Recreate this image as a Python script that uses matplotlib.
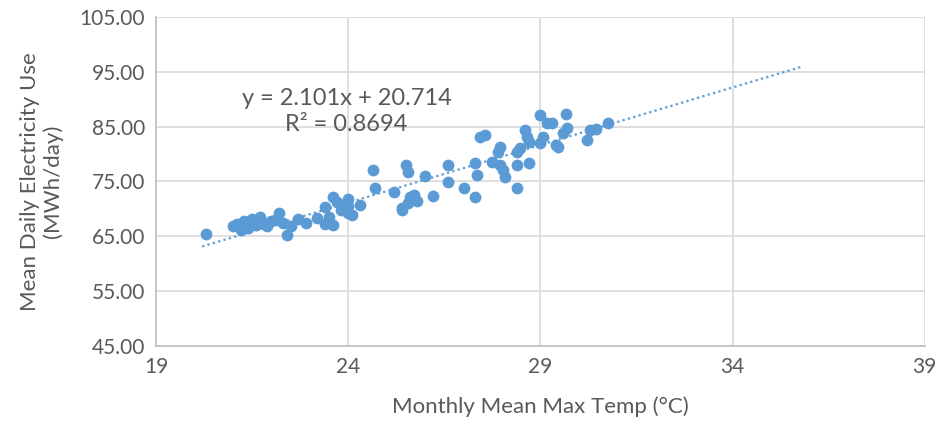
import matplotlib
matplotlib.use("Agg")
import matplotlib.pyplot as plt
import numpy as np

temp = [20.3, 21.0, 21.1, 21.2, 21.3, 21.4, 21.5, 21.6, 21.7, 21.8, 21.9, 22.0, 22.1, 22.2,
        22.3, 22.4, 22.5, 22.7, 22.9, 23.2, 23.4, 23.4, 23.5, 23.6, 23.6, 23.7, 23.8, 23.9,
        24.0, 24.0, 24.1, 24.3, 24.0, 24.65, 24.7, 25.2, 25.4, 25.4, 25.5, 25.55, 25.55, 25.6,
        25.7, 25.8, 26.0, 26.2, 26.6, 26.6, 27.0, 27.3, 27.3, 27.35, 27.43, 27.56, 27.74, 27.9,
        27.95, 27.95, 28.03, 28.08, 28.4, 28.47, 28.4, 28.7, 28.4, 28.6, 28.65, 28.7, 29.0,
        29.0, 29.06, 29.17, 29.3, 29.4, 29.45, 29.66, 29.7, 29.6, 30.2, 30.3, 30.45, 30.75]
usage = [65.4, 66.8, 67.3, 66.2, 67.8, 66.5, 68.2, 67.0, 68.5, 67.3, 66.8, 67.8, 68.0, 69.2,
         67.4, 65.3, 66.9, 68.2, 67.5, 68.4, 67.2, 70.3, 68.6, 67.0, 72.2, 71.3, 69.8, 70.2,
         69.2, 71.8, 68.8, 70.7, 70.5, 77.1, 73.8, 73.1, 70.2, 69.8, 78.0, 76.7, 71.1, 72.2,
         72.6, 71.5, 76.0, 72.4, 78.0, 74.9, 73.8, 72.2, 78.4, 76.2, 83.1, 83.5, 78.6, 80.4,
         81.3, 78.0, 77.1, 75.8, 80.4, 81.1, 78.0, 78.4, 73.8, 84.4, 83.1, 82.2, 87.1,
         82.0, 83.1, 85.6, 85.6, 81.7, 81.3, 87.3, 84.7, 83.8, 82.6, 84.4, 84.6, 85.7]

slope = 2.101
intercept = 20.714
r2 = 0.8694
trend_start, trend_end = 20.2, 35.8

x_ticks = [19, 24, 29, 34, 39]
y_ticks = [45, 55, 65, 75, 85, 95, 105]

FONT = ["Lato", "DejaVu Sans"]
TXT = "#595959"
BLUE = "#5b9bd5"

fig = plt.figure(figsize=(9.36, 4.28), dpi=100)
ax = fig.add_axes([0.1667, 0.1916, 0.8213, 0.7687])

ax.scatter(temp, usage, s=72, color=BLUE, zorder=3, linewidths=0)
tx = np.array([trend_start, trend_end])
ax.plot(tx, slope * tx + intercept, linestyle=(0, (1, 1.5)), color=BLUE, lw=1.6, zorder=2)

ax.set_xlim(19, 39)
ax.set_ylim(45, 105)
ax.set_xticks(x_ticks)
ax.set_yticks(y_ticks)
ax.set_yticklabels([f"{v:.2f}" for v in y_ticks])
ax.grid(True, color="#d9d9d9", lw=1.2, zorder=0)
ax.set_axisbelow(True)
for s in ["top", "right"]:
    ax.spines[s].set_visible(False)
for s in ["left", "bottom"]:
    ax.spines[s].set_color("#bfbfbf")
    ax.spines[s].set_linewidth(1.2)
ax.tick_params(length=0, labelsize=15, labelcolor=TXT, pad=8)
for lab in ax.get_xticklabels() + ax.get_yticklabels():
    lab.set_family(FONT)

ax.set_xlabel("Monthly Mean Max Temp (°C)", fontsize=16, color=TXT, family=FONT, labelpad=14)
ax.set_ylabel("Mean Daily Electricity Use\n(MWh/day)", fontsize=16, color=TXT, family=FONT,
              labelpad=12, linespacing=1.15)

ax.text(0.248, 0.712, f"y = {slope}x + {intercept}\nR² = {r2}", transform=ax.transAxes,
        ha="center", va="center", fontsize=17, color=TXT, family=FONT, linespacing=1.3)

fig.savefig("out.png", dpi=100)
